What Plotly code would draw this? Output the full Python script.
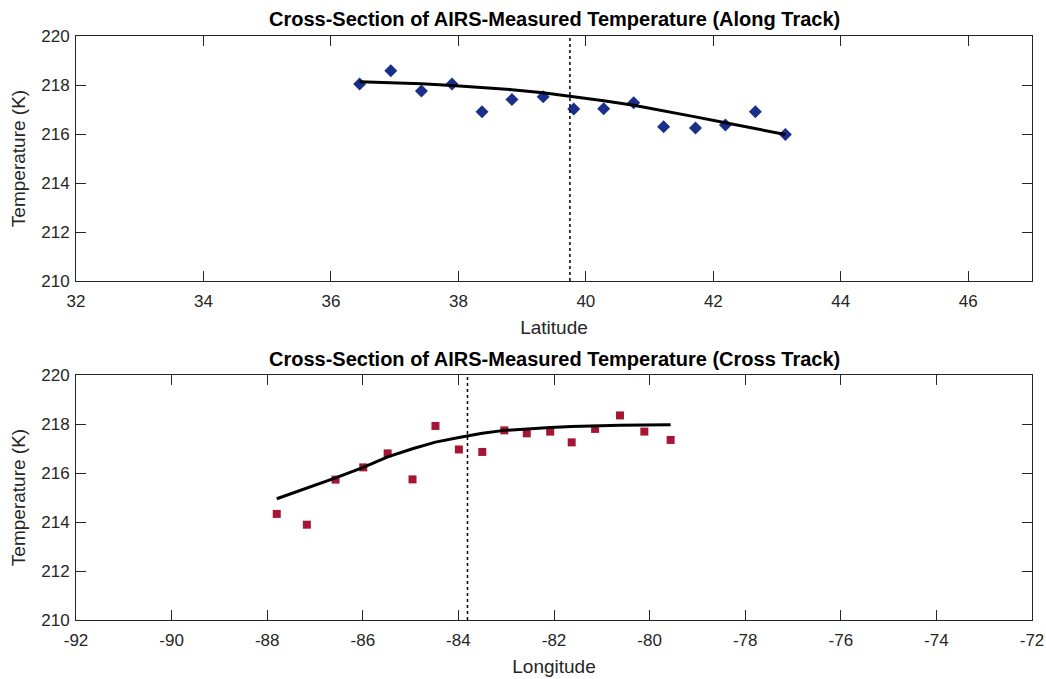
import plotly.graph_objects as go
from plotly.subplots import make_subplots

# Along-track data
lat = [36.45, 36.94, 37.42, 37.90, 38.37, 38.84, 39.33, 39.81, 40.28, 40.75, 41.22, 41.72, 42.19, 42.66, 43.13]
temp_along = [218.04, 218.58, 217.76, 218.04, 216.91, 217.41, 217.52, 217.02, 217.03, 217.28, 216.30, 216.24, 216.37, 216.91, 215.98]
fit_along = [218.13, 218.10, 218.05, 217.98, 217.90, 217.81, 217.68, 217.53, 217.36, 217.17, 216.95, 216.70, 216.46, 216.22, 215.98]
lat_center = 39.75
lat_ticks = [32, 34, 36, 38, 40, 42, 44, 46]

# Cross-track data
lon = [-87.80, -87.17, -86.57, -85.99, -85.48, -84.96, -84.48, -83.99, -83.50, -83.04, -82.57, -82.08, -81.63, -81.14, -80.62, -80.11, -79.56]
temp_cross = [214.33, 213.89, 215.73, 216.23, 216.80, 215.74, 217.92, 216.96, 216.86, 217.74, 217.62, 217.69, 217.25, 217.80, 218.35, 217.69, 217.35]
fit_cross = [214.95, 215.38, 215.80, 216.23, 216.66, 216.99, 217.26, 217.45, 217.62, 217.74, 217.81, 217.86, 217.90, 217.93, 217.95, 217.96, 217.97]
lon_center = -83.81
lon_ticks = [-92, -90, -88, -86, -84, -82, -80, -78, -76, -74, -72]

temp_ticks = [210, 212, 214, 216, 218, 220]

FONT = "Liberation Sans, Arial, sans-serif"
TXT = "#262626"

fig = make_subplots(rows=2, cols=1)

fig.add_trace(go.Scatter(x=lat, y=temp_along, mode="markers",
                         marker=dict(symbol="diamond", size=10, color="#1a2f8c"),
                         showlegend=False), row=1, col=1)
fig.add_trace(go.Scatter(x=lat, y=fit_along, mode="lines",
                         line=dict(color="black", width=3), showlegend=False), row=1, col=1)
fig.add_trace(go.Scatter(x=[lat_center, lat_center], y=[210, 220], mode="lines",
                         line=dict(color="black", width=1.5, dash="dot"), showlegend=False), row=1, col=1)

fig.add_trace(go.Scatter(x=lon, y=temp_cross, mode="markers",
                         marker=dict(symbol="square", size=8, color="#a51535"),
                         showlegend=False), row=2, col=1)
fig.add_trace(go.Scatter(x=lon, y=fit_cross, mode="lines",
                         line=dict(color="black", width=3), showlegend=False), row=2, col=1)
fig.add_trace(go.Scatter(x=[lon_center, lon_center], y=[210, 220], mode="lines",
                         line=dict(color="black", width=1.5, dash="dot"), showlegend=False), row=2, col=1)

axis_common = dict(showgrid=False, zeroline=False, showline=True, linecolor=TXT, linewidth=1,
                   mirror="ticks", ticks="inside", ticklen=10, tickcolor=TXT, tickwidth=1,
                   automargin=False,
                   tickfont=dict(family=FONT, size=17, color=TXT))

x0, x1 = 76 / 1046, 1032 / 1046
fig.update_xaxes(ticklabelstandoff=5, **axis_common)
fig.update_yaxes(ticklabelstandoff=2, **axis_common)

title_font = dict(family=FONT, size=19, color=TXT)

fig.update_layout(
    xaxis=dict(domain=[x0, x1], range=[32, 47], tickvals=lat_ticks,
               ticktext=[str(v) for v in lat_ticks],
               title=dict(text="Latitude", font=title_font, standoff=10)),
    yaxis=dict(domain=[(679 - 281) / 679, (679 - 36) / 679], range=[210, 220],
               tickvals=temp_ticks, ticktext=[str(v) for v in temp_ticks],
               title=dict(text="Temperature (K)", font=title_font, standoff=10)),
    xaxis2=dict(domain=[x0, x1], range=[-92, -72], tickvals=lon_ticks,
                ticktext=[str(v) for v in lon_ticks],
                title=dict(text="Longitude", font=title_font, standoff=10)),
    yaxis2=dict(domain=[(679 - 620) / 679, (679 - 375) / 679], range=[210, 220],
                tickvals=temp_ticks, ticktext=[str(v) for v in temp_ticks],
                title=dict(text="Temperature (K)", font=title_font, standoff=10)),
    width=1046, height=679,
    margin=dict(l=0, r=0, t=0, b=0),
    paper_bgcolor="white", plot_bgcolor="white",
    font=dict(family=FONT, color=TXT),
    annotations=[
        dict(text="<b>Cross-Section of AIRS-Measured Temperature (Along Track)</b>",
             x=(x0 + x1) / 2, y=(679 - 19) / 679, xref="paper", yref="paper",
             showarrow=False, xanchor="center", yanchor="middle",
             font=dict(family=FONT, size=20, color="black")),
        dict(text="<b>Cross-Section of AIRS-Measured Temperature (Cross Track)</b>",
             x=(x0 + x1) / 2, y=(679 - 359) / 679, xref="paper", yref="paper",
             showarrow=False, xanchor="center", yanchor="middle",
             font=dict(family=FONT, size=20, color="black")),
    ],
)

fig.write_html("out.html")
